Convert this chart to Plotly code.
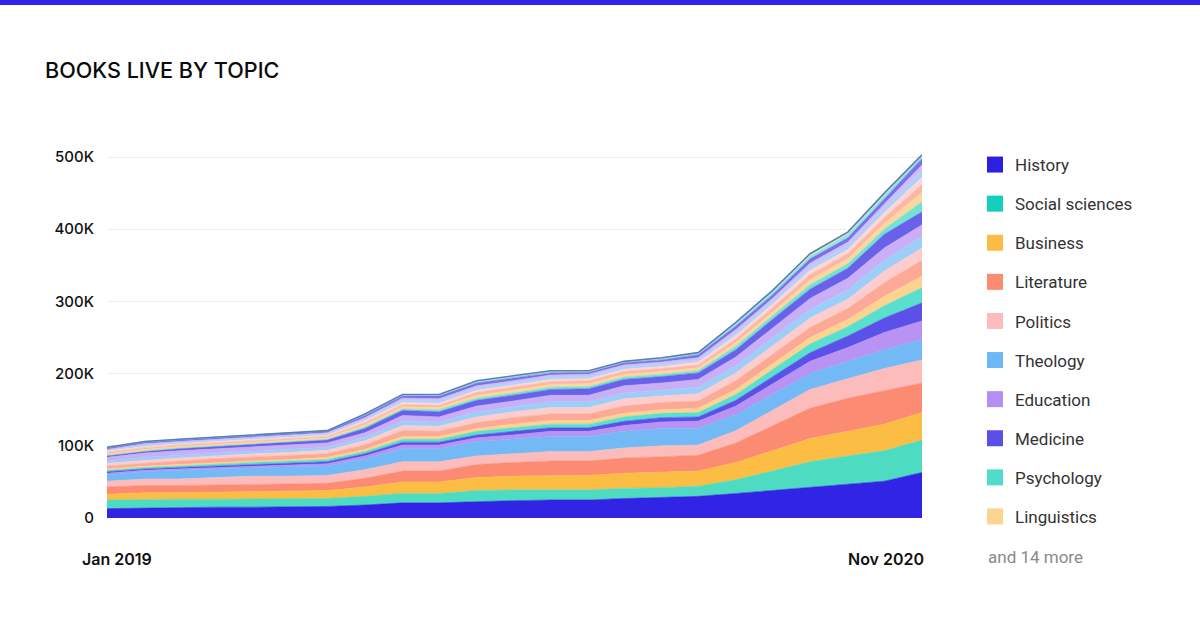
import plotly.graph_objects as go

# ---------------- data (thousands of books) ----------------
months = ["2019-01-01", "2019-02-01", "2019-03-01", "2019-04-01", "2019-05-01", "2019-06-01",
          "2019-07-01", "2019-08-01", "2019-09-01", "2019-10-01", "2019-11-01", "2019-12-01",
          "2020-01-01", "2020-02-01", "2020-03-01", "2020-04-01", "2020-05-01", "2020-06-01",
          "2020-07-01", "2020-08-01", "2020-09-01", "2020-10-01", "2020-11-01"]

history = [13, 14, 14, 15, 15, 15, 16, 18, 21, 21, 23, 24, 25, 25, 27, 28, 30, 34, 38, 43, 47, 51, 63]
social_sciences = [12, 12, 12, 11, 11, 11, 11, 12, 13, 13, 15, 15, 14, 14, 14, 14, 14, 19, 27, 35, 39, 42, 45]
business = [8, 9, 9, 10, 10, 11, 11, 13, 16, 16, 18, 19, 20, 20, 21, 21, 21, 24, 28, 32, 34, 37, 38]
literature = [10, 10, 10, 10, 11, 10, 10, 12, 15, 15, 18, 19, 20, 20, 21, 22, 22, 27, 35, 42, 46, 46, 41]
politics = [8, 9, 9, 10, 11, 11, 11, 12, 13, 13, 12, 12, 13, 13, 14, 15, 14, 17, 21, 26, 27, 31, 32]
theology = [9, 10, 12, 12, 12, 13, 13, 15, 18, 18, 20, 20, 21, 21, 23, 24, 23, 22, 22, 22, 24, 26, 28]
education = [2, 2, 2, 2, 2, 3, 3, 4, 5, 5, 5, 6, 7, 7, 8, 9, 10, 12, 14, 17, 19, 24, 26]
medicine = [2, 2, 2, 2, 2, 2, 3, 3, 4, 4, 4, 5, 5, 5, 6, 6, 6, 8, 10, 12, 16, 20, 25]
psychology = [2, 2, 2, 3, 3, 3, 3, 3, 4, 4, 5, 5, 5, 5, 6, 6, 6, 8, 10, 12, 13, 17, 21]
linguistics = [2, 2, 2, 2, 2, 2, 3, 3, 4, 4, 4, 5, 5, 5, 5, 5, 6, 7, 8, 9, 10, 13, 16]
topic_11 = [4, 4, 5, 5, 5, 5, 5, 6, 8, 7, 8, 9, 9, 9, 10, 10, 10, 12, 13, 14, 15, 19, 22]
topic_12 = [4, 4, 4, 4, 5, 5, 5, 6, 7, 7, 8, 8, 9, 9, 10, 9, 10, 11, 12, 13, 13, 16, 17]
topic_13 = [3, 4, 4, 4, 4, 4, 4, 5, 6, 6, 7, 7, 8, 8, 8, 8, 9, 10, 11, 12, 13, 15, 16]
topic_14 = [5, 6, 6, 6, 6, 6, 6, 6, 8, 7, 8, 8, 9, 9, 10, 10, 11, 12, 14, 15, 16, 17, 16]
topic_15 = [2, 2, 3, 3, 3, 4, 4, 6, 7, 7, 8, 8, 8, 9, 9, 9, 9, 10, 12, 13, 14, 19, 18]
topic_16 = [1, 1, 1, 1, 1, 1, 1, 2, 2, 3, 3, 3, 3, 3, 3, 3, 3, 5, 5, 6, 6, 7, 14]
topic_17 = [2, 2, 2, 2, 2, 2, 2, 3, 3, 3, 4, 4, 4, 4, 4, 4, 4, 5, 5, 7, 7, 8, 13]
topic_18 = [2, 2, 2, 2, 2, 2, 2, 3, 3, 3, 4, 4, 4, 4, 4, 4, 4, 5, 6, 7, 7, 8, 11]
topic_19 = [2, 2, 2, 2, 2, 2, 2, 3, 3, 3, 3, 3, 3, 3, 3, 3, 4, 5, 5, 6, 6, 7, 10]
topic_20 = [1, 2, 2, 2, 2, 2, 2, 2, 3, 3, 3, 3, 3, 3, 3, 3, 3, 4, 4, 5, 5, 6, 9]
topic_21 = [1, 2, 1, 1, 1, 1, 1, 2, 3, 3, 3, 3, 3, 3, 3, 3, 3, 4, 4, 5, 5, 6, 8]
topic_22 = [2, 2, 2, 2, 2, 2, 2, 3, 3, 4, 4, 4, 3, 3, 3, 3, 4, 5, 5, 6, 6, 7, 9]
topic_23 = [1, 1, 1, 1, 1, 1, 1, 1, 1, 1, 2, 2, 2, 1, 1, 2, 2, 3, 4, 4, 5, 5, 3]
topic_24 = [0, 0, 0, 0, 0, 0, 0, 1, 1, 1, 1, 1, 1, 1, 1, 1, 1, 2, 2, 3, 3, 3, 2]

topic_names = ["History", "Social sciences", "Business", "Literature", "Politics",
               "Theology", "Education", "Medicine", "Psychology", "Linguistics",
               "Topic 11", "Topic 12", "Topic 13", "Topic 14", "Topic 15", "Topic 16",
               "Topic 17", "Topic 18", "Topic 19", "Topic 20", "Topic 21", "Topic 22",
               "Topic 23", "Topic 24"]
series = [history, social_sciences, business, literature, politics, theology, education,
          medicine, psychology, linguistics, topic_11, topic_12, topic_13, topic_14,
          topic_15, topic_16, topic_17, topic_18, topic_19, topic_20, topic_21, topic_22,
          topic_23, topic_24]

legend_count = 10
more_label = "and 14 more"
y_tickvals = [0, 100, 200, 300, 400, 500]
y_ticktext = ["0", "100K", "200K", "300K", "400K", "500K"]
x_labels = ["Jan 2019", "Nov 2020"]

# ---------------- styles ----------------
fill_colors = ["#3124e4", "#4ddcc2", "#fbbd44", "#fb8c73", "#fcbcbc", "#72b9f6", "#b893f3",
               "#5b51e8", "#58dfce", "#fcd390", "#fca995", "#fdcccc", "#9dcdf9", "#caaff6",
               "#6a61ea", "#70e3d3", "#fcd89e", "#fdb7a6", "#fed6d6", "#aad3fa", "#d3bdf8",
               "#7a72ec", "#8ee9dc", "#fde0ae"]
legend_colors = ["#2c1fe0", "#14cfbd", "#fbbc46", "#fb8b72", "#fcbcbc", "#6eb7f6",
                 "#b48ff3", "#5a50e8", "#4fdccd", "#fcd38f"]

W, H = 1200, 627
GRID_500 = 157           # pixel row of the 500K gridline
L, R, T, B = 107, 922, 120, 518
pw, ph = R - L, B - T


def px_x(x):
    return (x - L) / pw


def px_y(y):
    return (B - y) / ph


fig = go.Figure()
for i, (name, vals) in enumerate(zip(topic_names, series)):
    last = i == len(series) - 1
    fig.add_trace(go.Scatter(
        x=months, y=vals, name=name, stackgroup="one", mode="lines",
        line=dict(width=1.6 if last else 0.6, color="#5c7fb3" if last else fill_colors[i]),
        fillcolor=fill_colors[i], showlegend=False, hoverinfo="skip"))

for i in range(legend_count):
    fig.add_trace(go.Scatter(
        x=[None], y=[None], mode="markers", name=topic_names[i], legendgroup=topic_names[i],
        marker=dict(symbol="square", size=16, color=legend_colors[i]), showlegend=True))

fig.update_layout(
    width=W, height=H,
    margin=dict(l=L, r=W - R, t=T, b=H - B, autoexpand=False),
    paper_bgcolor="white", plot_bgcolor="white",
    title=dict(text="BOOKS LIVE BY TOPIC", x=45 / W, xanchor="left", xref="container",
               y=1 - 70 / H, yanchor="middle", yref="container",
               font=dict(family="Inter", size=21.6, color="#0a0a0a", weight=500)),
    xaxis=dict(type="date", range=[months[0], months[-1]], showgrid=False,
               showticklabels=False, zeroline=False, showline=False, ticks=""),
    yaxis=dict(range=[0, 500 * ph / (B - GRID_500)], tickvals=y_tickvals, ticktext=y_ticktext,
               showgrid=True, gridcolor="#eeeeee", gridwidth=1, zeroline=False,
               showline=False, ticks="", ticklabelstandoff=12,
               tickfont=dict(family="Inter", size=15, color="#111111", weight=500)),
    legend=dict(x=px_x(975), xanchor="left", xref="paper",
                y=px_y(147), yanchor="top", yref="paper",
                font=dict(family="Roboto", size=17, color="#333333"),
                traceorder="grouped", tracegroupgap=14, itemwidth=30,
                bgcolor="rgba(0,0,0,0)"),
    shapes=[dict(type="rect", xref="paper", yref="paper", x0=px_x(0), x1=px_x(W),
                 y0=px_y(5), y1=px_y(0), fillcolor="#3224e6", line=dict(width=0),
                 layer="above")],
    annotations=[
        dict(text=x_labels[0], xref="paper", yref="paper", x=px_x(80), y=px_y(559),
             xanchor="left", yanchor="middle", showarrow=False,
             font=dict(family="Inter", size=16, color="#111111", weight=600)),
        dict(text=x_labels[1], xref="paper", yref="paper", x=px_x(926), y=px_y(559),
             xanchor="right", yanchor="middle", showarrow=False,
             font=dict(family="Inter", size=16, color="#111111", weight=600)),
        dict(text=more_label, xref="paper", yref="paper", x=px_x(986), y=px_y(557),
             xanchor="left", yanchor="middle", showarrow=False,
             font=dict(family="Roboto", size=17, color="#8a8a8a")),
    ],
)

fig.write_html("out.html", config={"displayModeBar": False},
               post_script="document.body.style.margin='0px';")
